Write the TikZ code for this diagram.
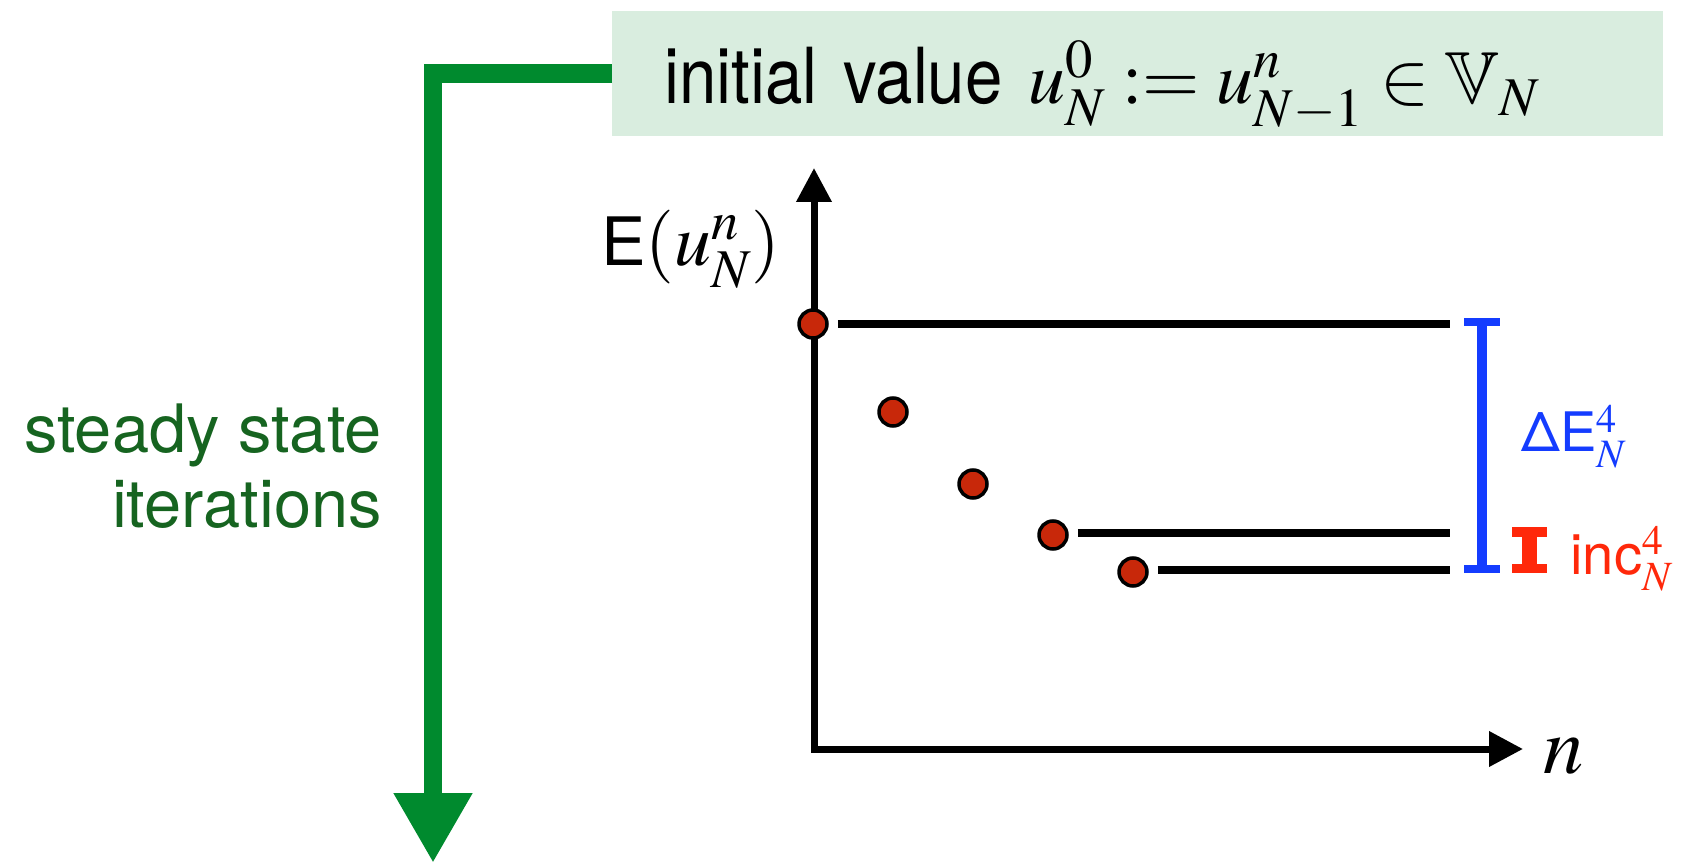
\documentclass[tikz,border=0pt]{standalone}
\usepackage{mathptmx}
\usepackage{amssymb}
\usepackage[no-math]{fontspec}
\setmainfont{TeX Gyre Heros}
\newfontfamily\narrowfont[FakeStretch=0.87]{TeX Gyre Heros}
\usetikzlibrary{arrows.meta,positioning}
\definecolor{boxgreen}{RGB}{217,237,223}
\definecolor{linegreen}{RGB}{0,138,46}
\definecolor{textgreen}{RGB}{22,100,32}
\definecolor{dotred}{RGB}{200,40,10}
\definecolor{barblue}{RGB}{20,60,255}
\definecolor{barred}{RGB}{255,40,10}

\tikzset{
  bigfont/.style={font=\fontsize{38}{42.7}\selectfont},
  smallfont/.style={font=\fontsize{31}{36}\selectfont},
  ptdot/.style={circle, fill=dotred, draw=black, line width=0.07cm, minimum size=0.56cm, inner sep=0pt},
  axisline/.style={line width=0.14cm, {Triangle[length=0.68cm,width=0.68cm]}-{Triangle[length=0.68cm,width=0.68cm]}},
  levelline/.style={line width=0.15cm},
}

\begin{document}
\begin{tikzpicture}[x=0.02cm, y=-0.02cm]
    \useasboundingbox (0,0) rectangle (1687,864);

    % Initial value box
    \node (initbox) [fill=boxgreen, anchor=west, inner xsep=1.04cm, inner ysep=0pt,
        text width=18.94cm, text height=1.6cm, text depth=0.38cm, minimum height=2.5cm, align=left,
        font=\narrowfont\fontsize{44}{50}\selectfont] at (612,73.5)
        {initial value {\fontsize{42}{48}\selectfont$u_N^0 := u_{N-1}^n \in \mathbb{V}_N$}};

    % Steady state iterations
    \coordinate (itend) at (433,863);
    \draw[linegreen, line width=0.37cm, -{Triangle[length=1.4cm,width=1.48cm]}] (initbox.west) -| (itend);
    \node (itlabel) [bigfont, text=textgreen, align=right, anchor=north east, inner sep=0pt] at (382,403)
        {steady state\\iterations};

    % Axes
    \coordinate (origin) at (814,749);
    \coordinate (ytip) at (814,168);
    \coordinate (xtip) at (1523,749);
    \draw[axisline] (ytip) |- (xtip);
    \node (nlabel) [font=\fontsize{46}{50}\selectfont, anchor=base, inner sep=0pt] at (1564,773) {$n$};
    \node (elabel) [anchor=base west, inner sep=0pt, font=\fontsize{38}{42}\selectfont] at (601,266)
        {E{\fontsize{42}{46}\selectfont$(u_N^n)$}};

    % Energy values
    \node (p0) [ptdot] at (813,324) {};
    \node (p1) [ptdot] at (893,412) {};
    \node (p2) [ptdot] at (973,484) {};
    \node (p3) [ptdot] at (1053,535) {};
    \node (p4) [ptdot] at (1133,572) {};

    % Levels
    \coordinate (topend) at (1450,324);
    \coordinate (midend) at (1450,533);
    \coordinate (lowend) at (1450,570);
    \draw[levelline] ([xshift=0.18cm]p0.east |- topend) -- (topend);
    \draw[levelline] ([xshift=0.18cm]p3.east |- midend) -- (midend);
    \draw[levelline] ([xshift=0.18cm]p4.east |- lowend) -- (lowend);

    % Differences
    \coordinate (dtop) at (1482,322);
    \coordinate (dbot) at (1482,569);
    \draw[barblue, line width=0.2cm] (dtop) -- (dbot);
    \draw[barblue, line width=0.16cm] ([xshift=-0.36cm]dtop) -- ([xshift=0.36cm]dtop);
    \draw[barblue, line width=0.16cm] ([xshift=-0.36cm]dbot) -- ([xshift=0.36cm]dbot);
    \node (dlabel) [smallfont, text=barblue, anchor=base west, inner sep=0pt] at (1521,452) {ΔE$^4_N$};

    \coordinate (itop) at (1529.5,532);
    \coordinate (ibot) at (1529.5,568.5);
    \draw[barred, line width=0.3cm] (itop) -- (ibot);
    \draw[barred, line width=0.19cm] ([xshift=-0.35cm]itop) -- ([xshift=0.35cm]itop);
    \draw[barred, line width=0.19cm] ([xshift=-0.35cm]ibot) -- ([xshift=0.35cm]ibot);
    \node (ilabel) [font=\fontsize{32}{36}\selectfont, text=barred, anchor=base west, inner sep=0pt] at (1570,575) {inc$^4_N$};
\end{tikzpicture}
\end{document}
